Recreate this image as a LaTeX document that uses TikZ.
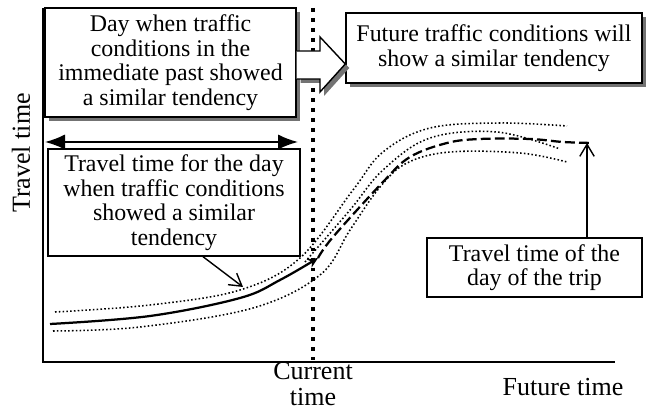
\documentclass[tikz,border=0pt]{standalone}
\usepackage{fontspec}
\setmainfont{Liberation Serif}
\usetikzlibrary{arrows.meta,shadows}

\begin{document}
\begin{tikzpicture}[x=0.25mm, y=0.25mm, >={Straight Barb[length=3mm,width=3.6mm]},
		box/.style={draw, line width=1pt, fill=white, align=center, inner sep=0pt, font=\fontsize{17}{17.5}\selectfont},
		boxshadow/.style={drop shadow={shadow xshift=1mm, shadow yshift=-1mm, fill=black!55, opacity=1}},
		axislabel/.style={font=\fontsize{18.5}{19}\selectfont, align=center},
		band/.style={line width=1.1pt, dash pattern=on 1.1pt off 1.6pt}]
				\useasboundingbox (0,0) rectangle (648,410);
				% axes
				\coordinate (o) at (43,48);
				\coordinate (ytop) at (43,402);
				\coordinate (xend) at (615,48);
				\draw[line width=1.1pt] (ytop) -- (o) -- (xend);
				\node[axislabel, rotate=90] (ylab) at (21,257) {Travel time};
				\node[axislabel] (now) at (313,26) {Current\\time};
				\node[axislabel] (future) at (563,23) {Future time};
				% current time
				\coordinate (ctop) at (313,402);
				\coordinate (cbot) at (313,50);
				\draw[line width=2.8pt, dash pattern=on 2.8pt off 4.3pt] (ctop) -- (cbot);
				% travel time curves
				\draw[band] plot[smooth, tension=0.6] coordinates {(55,98) (150,105) (240,120) (300,152) (353,220) (383,258) (430,282) (500,287) (567,284)};
				\draw[band] plot[smooth, tension=0.6] coordinates {(53,79) (140,83) (253,102) (320,135) (350,180) (380,223) (407,247) (450,258) (520,257) (567,248)};
				\draw[band] plot[smooth, tension=0.6] coordinates {(305,148) (350,200) (383,240) (430,272) (497,278) (560,261)};
				\draw[line width=1.6pt, -{Stealth[length=2.6mm,width=2.4mm]}] plot[smooth, tension=0.6] coordinates {(50,86) (150,94) (240,112) (280,130) (318,152)};
				\draw[line width=1.6pt, dash pattern=on 7pt off 3pt] plot[smooth, tension=0.6] coordinates {(318,152) (333,173) (383,228) (410,253) (447,267) (480,271) (530,271) (563,268) (593,267)};
				% boxes
				\node[box, boxshadow, minimum width=62.75mm, minimum height=27.25mm] (past) at (170.5,347.5)
					{Day when traffic\\conditions in the\\immediate past showed\\a similar tendency};
				\node[box, boxshadow, minimum width=74mm, minimum height=17.5mm] (next) at (494,362)
					{Future traffic conditions will\\show a similar tendency};
				\node[box, minimum width=63mm, minimum height=26.75mm] (sameday) at (174,207.5)
					{Travel time for the day\\when traffic conditions\\showed a similar\\tendency};
				\node[box, minimum width=53.75mm, minimum height=14.75mm] (trip) at (534.5,142.5)
					{Travel time of the\\day of the trip};
				% block arrow
				\draw[line width=1pt, fill=white, boxshadow] (past.east |- 0,359) -- (320,359) -- (320,373) -- (next.west |- 0,346)
					-- (320,318) -- (320,331) -- (past.east |- 0,331);
				% arrows
				\coordinate (a1) at (45,268);
				\coordinate (a2) at (298,268);
				\draw[line width=1.2pt, {Latex[length=5mm,width=3.8mm]}-{Latex[length=5mm,width=3.8mm]}] (a1) -- (a2);
				\coordinate (t1) at (243,123);
				\coordinate (t2) at (587,267);
				\draw[line width=1pt, ->] (sameday.south) ++(29,0) -- (t1);
				\draw[line width=1pt, ->] (trip.north) ++(52.5,0) -- (t2);
			\end{tikzpicture}
\end{document}
